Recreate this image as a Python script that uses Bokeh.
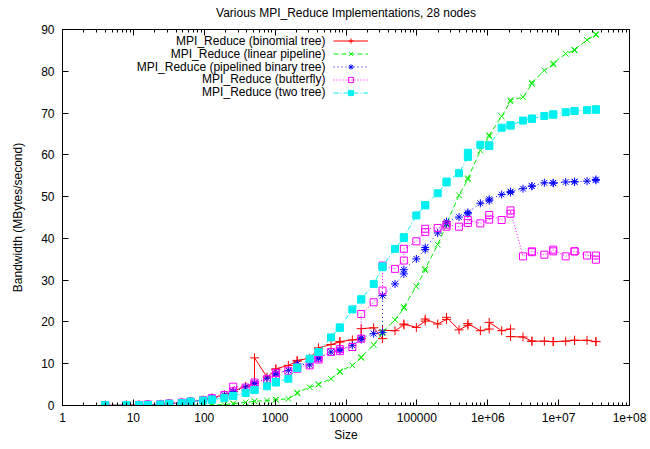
from bokeh.plotting import figure
from bokeh.models import (LogAxis, LinearAxis, FixedTicker, CustomJSTickFormatter,
                          Legend, LegendItem, Label, Range1d, ColumnDataSource)
from bokeh.embed import file_html
from bokeh.resources import INLINE
from bokeh.core.properties import value

TITLE = "Various MPI_Reduce Implementations, 28 nodes"
X_LABEL = "Size"
Y_LABEL = "Bandwidth (MBytes/second)"

x_ticks = [1, 10, 100, 1000, 10000, 100000, 1000000, 10000000, 100000000]
x_tick_labels = ["1", "10", "100", "1000", "10000", "100000", "1e+06", "1e+07", "1e+08"]
y_ticks = [0, 10, 20, 30, 40, 50, 60, 70, 80, 90]

sizes = [4, 4, 8, 8, 12, 16, 16, 24, 32, 32, 48, 64, 64, 96, 128, 128, 192, 256, 256, 384,
         512, 512, 768, 1024, 1024, 1536, 2048, 2048, 3072, 4096, 4096, 6144, 8192, 8192,
         12288, 16384, 16384, 24576, 32768, 32768, 49152, 65536, 65536, 98304, 131072, 131072,
         196608, 262144, 262144, 393216, 524288, 524288, 786432, 1048576, 1048576, 1572864,
         2097152, 2097152, 3145728, 4194304, 4194304, 6291456, 8388608, 8388608, 12582912,
         16777216, 16777216, 25165824, 33554432, 33554432]

binomial = [0.05, 0.05, 0.1, 0.1, 0.15, 0.2, 0.2, 0.3, 0.45, 0.45, 0.7, 0.9, 0.9, 1.3, 1.7, 1.8,
            2.6, 3.3, 3.4, 4.6, 5.4, 11.4, 6.8, 8.6, 8.8, 9.6, 10.6, 10.8, 11.3, 13.6, 13.8,
            14.6, 15.2, 15.3, 15.7, 16.0, 18.4, 18.6, 16.0, 18.0, 17.9, 19.3, 19.5, 18.7,
            20.2, 20.7, 19.5, 20.6, 21.1, 18.1, 19.2, 19.6, 17.9, 18.3, 19.9, 17.9, 18.3, 16.5,
            16.4, 15.4, 15.4, 15.4, 15.3, 15.3, 15.4, 15.6, 15.6, 15.6, 15.3, 15.3]

linear = [0.02, 0.02, 0.03, 0.03, 0.04, 0.05, 0.05, 0.06, 0.08, 0.08, 0.1, 0.12, 0.12, 0.15,
          0.18, 0.18, 0.2, 0.45, 0.45, 0.75, 1.0, 1.0, 1.2, 1.4, 1.4, 1.6, 2.9, 3.1, 4.4, 5.0,
          5.1, 6.4, 8.0, 8.2, 9.6, 11.4, 11.6, 14.5, 17.3, 17.6, 20.5, 23.3, 23.6, 28.5, 32.4,
          32.7, 38.5, 43.3, 43.6, 50.3, 54.1, 54.4, 61.0, 64.4, 64.7, 69.2, 72.8, 73.1, 73.8,
          77.0, 77.3, 80.2, 81.6, 81.9, 84.2, 85.0, 85.2, 87.5, 88.7, 88.9]

pipelined = [0.05, 0.05, 0.1, 0.1, 0.15, 0.2, 0.2, 0.3, 0.45, 0.45, 0.7, 0.9, 0.9, 1.3, 1.7,
             1.7, 2.5, 3.3, 3.4, 4.4, 5.3, 5.4, 6.5, 7.5, 7.7, 8.4, 9.4, 10.0, 9.7, 11.2, 11.4,
             12.8, 13.2, 13.4, 14.4, 15.8, 16.2, 17.2, 17.5, 26.3, 29.1, 31.5, 32.5, 35.1,
             37.3, 37.8, 41.3, 43.5, 44.0, 45.1, 45.9, 46.2, 48.4, 49.0, 49.4, 50.5, 51.0,
             51.2, 51.9, 52.5, 52.5, 53.3, 53.3, 53.2, 53.5, 53.5, 53.6, 53.7, 53.9, 54.1]

butterfly = [0.05, 0.05, 0.1, 0.1, 0.15, 0.2, 0.2, 0.3, 0.45, 0.45, 0.7, 0.9, 0.9, 1.3, 1.7,
             1.7, 2.5, 3.4, 4.5, 4.3, 5.0, 5.5, 6.3, 7.2, 7.8, 8.3, 8.8, 9.2, 9.6, 11.0, 11.4,
             12.8, 13.0, 13.5, 14.0, 16.0, 21.9, 24.7, 27.5, 33.5, 32.7, 34.7, 37.5, 39.3,
             41.5, 42.3, 42.5, 42.8, 43.3, 42.8, 43.7, 44.4, 43.6, 44.5, 45.6, 44.4, 45.9,
             46.7, 35.7, 36.7, 36.9, 36.1, 36.9, 37.3, 35.7, 36.9, 36.9, 35.9, 35.9, 34.9]

two_tree = [0.05, 0.05, 0.08, 0.08, 0.1, 0.12, 0.12, 0.25, 0.4, 0.4, 0.6, 0.9, 0.9, 1.2, 1.4,
            1.4, 1.8, 2.3, 2.3, 3.0, 3.7, 3.7, 4.6, 5.5, 5.6, 6.4, 9.0, 9.1, 11.2, 12.8, 12.8,
            16.3, 18.6, 18.7, 23.0, 25.4, 25.4, 29.1, 33.1, 33.3, 37.5, 40.1, 40.3, 45.5, 47.9,
            48.0, 50.8, 53.4, 53.6, 55.6, 59.5, 60.5, 62.4, 62.1, 62.3, 66.5, 67.0, 67.1, 68.2,
            68.6, 68.7, 69.3, 69.6, 69.7, 70.2, 70.5, 70.5, 70.7, 70.8, 70.9]

names = ["MPI_Reduce (binomial tree)", "MPI_Reduce (linear pipeline)",
         "MPI_Reduce (pipelined binary tree)", "MPI_Reduce (butterfly)",
         "MPI_Reduce (two tree)"]
values = [binomial, linear, pipelined, butterfly, two_tree]
colors = ["#ff0000", "#00ee00", "#0000ff", "#ff00ff", "#00f0f0"]
dashes = ["solid", "5 3", "1 3", "1 2", "5 2 1 2"]
markers = ["cross", "x", "asterisk", "square", "square"]
msizes = [9, 8, 8, 7, 7]
filled = [False, False, False, False, True]

FONT = "Liberation Sans"

p = figure(x_axis_type="log", x_range=Range1d(1, 1e8), y_range=Range1d(0, 90),
           frame_width=567, frame_height=376, output_backend="svg", toolbar_location=None,
           min_border_left=62, min_border_right=20, min_border_top=29, min_border_bottom=43,
           background_fill_color="white", border_fill_color="white")
p.grid.visible = False
p.outline_line_color = "black"
p.outline_line_width = 1

minor = [m * 10 ** e for e in range(0, 8) for m in range(2, 10)]
xticker = FixedTicker(ticks=x_ticks, minor_ticks=minor)
yticker = FixedTicker(ticks=y_ticks, minor_ticks=[])

xa = p.xaxis[0]
xa.ticker = xticker
xa.major_label_overrides = {t: l for t, l in zip(x_ticks, x_tick_labels)}
ya = p.yaxis[0]
ya.ticker = yticker

for ax in (xa, ya):
    ax.major_tick_in = 6
    ax.major_tick_out = 0
    ax.minor_tick_in = 3
    ax.minor_tick_out = 0
    ax.major_label_text_font = FONT
    ax.major_label_text_font_size = "12px"
    ax.major_label_text_color = "black"
    ax.axis_label_text_font = FONT
    ax.axis_label_text_font_size = "12px"
    ax.axis_label_text_font_style = "normal"
    ax.axis_label_text_color = "black"
    ax.axis_line_color = "black"
    ax.major_tick_line_color = "black"
    ax.minor_tick_line_color = "black"
xa.axis_label = X_LABEL
ya.axis_label = Y_LABEL
xa.major_label_standoff = 7
xa.axis_label_standoff = 3
ya.major_label_standoff = 8
ya.axis_label_standoff = 13

empty = CustomJSTickFormatter(code="return ''")
# mirrored top axis; its axis label carries the chart title
top = LogAxis(ticker=xticker, formatter=empty, major_tick_in=6, major_tick_out=0,
              minor_tick_in=3, minor_tick_out=0, major_label_standoff=0,
              major_label_text_font_size="0px", axis_line_color="black",
              axis_label=TITLE, axis_label_text_font=FONT, axis_label_text_font_size="12px",
              axis_label_text_font_style="normal", axis_label_text_color="black",
              axis_label_standoff=10)
right = LinearAxis(ticker=yticker, formatter=empty, major_tick_in=6, major_tick_out=0,
                   minor_tick_in=0, minor_tick_out=0, major_label_standoff=0,
                   major_label_text_font_size="0px", axis_line_color="black")
p.add_layout(top, "above")
p.add_layout(right, "right")

items = []
for i in range(len(names)):
    src = ColumnDataSource(data=dict(x=sizes, y=values[i]))
    ln = p.line("x", "y", source=src, line_color=colors[i], line_width=1,
                line_dash=dashes[i])
    sc = p.scatter("x", "y", source=src, marker=markers[i], size=msizes[i],
                   line_color=colors[i], line_width=1,
                   fill_color=colors[i] if filled[i] else None)
    items.append(LegendItem(label=value(""), renderers=[ln, sc]))
    p.add_layout(Label(x=263, y=364.2 - 12.7 * i, x_units="screen", y_units="screen",
                       text=names[i], text_align="right", text_baseline="middle",
                       text_font=FONT, text_font_size="12px", text_color="black"))

legend = Legend(items=items, location=(271, 305.7), glyph_width=35, glyph_height=13,
                label_width=0, label_height=13, label_standoff=0, padding=0, margin=0,
                spacing=0, border_line_color=None, background_fill_alpha=0,
                label_text_font_size="6px")
p.add_layout(legend)

open("out.html", "w").write(file_html(p, INLINE))
